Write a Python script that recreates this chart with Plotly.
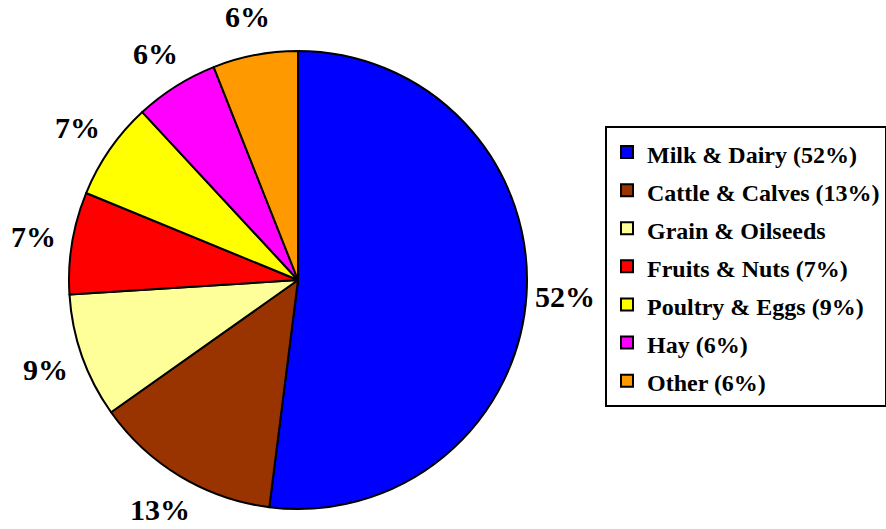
import math
import plotly.graph_objects as go

# ---- data ----
categories = ["Milk & Dairy", "Cattle & Calves", "Grain & Oilseeds", "Fruits & Nuts",
              "Poultry & Eggs", "Hay", "Other"]
legend_labels = ["Milk & Dairy (52%)", "Cattle & Calves (13%)", "Grain & Oilseeds",
                 "Fruits & Nuts (7%)", "Poultry & Eggs (9%)", "Hay (6%)", "Other (6%)"]
shares = [52.0, 13.2, 8.8, 7.2, 6.9, 5.9, 6.0]
colors = ["#0000FF", "#993300", "#FFFF99", "#FF0000", "#FFFF00", "#FF00FF", "#FF9900"]

W, H = 886, 529
FONT = "Liberation Serif, Times New Roman, serif"

# pie placement (pixels)
cx_px, cy_px, R_px = 298, 280, 229
dom_x = [(cx_px - R_px) / W, (cx_px + R_px) / W]
dom_y = [1 - (cy_px + R_px) / H, 1 - (cy_px - R_px) / H]

fig = go.Figure()
fig.add_trace(go.Pie(
    labels=[f'<b><span style="font-size:24px">{t}</span></b>' for t in legend_labels],
    values=shares,
    sort=False,
    direction="clockwise",
    rotation=0,
    marker=dict(colors=colors, line=dict(color="black", width=2)),
    textinfo="none",
    hoverinfo="label+percent",
    domain=dict(x=dom_x, y=dom_y),
    showlegend=True,
))

# percentage labels outside the slices, placed along each slice's mid-angle
total = sum(shares)
cum = 0.0
L = R_px * 1.17
for v in shares:
    mid = (cum + v / 2) / total * 2 * math.pi
    cum += v
    x_px = cx_px + L * math.sin(mid)
    y_px = cy_px - L * math.cos(mid)
    fig.add_annotation(
        x=x_px / W, y=1 - y_px / H, xref="paper", yref="paper",
        text=f"<b>{round(v / total * 100)}%</b>", showarrow=False,
        xanchor="center", yanchor="middle",
        font=dict(family=FONT, size=30, color="black"),
    )

fig.update_layout(
    width=W, height=H,
    margin=dict(l=0, r=0, t=0, b=0, autoexpand=False),
    paper_bgcolor="white", plot_bgcolor="white",
    font=dict(family=FONT, color="black"),
    legend=dict(
        x=605 / W, y=1 - 126 / H, xanchor="left", yanchor="top",
        bordercolor="black", borderwidth=2, bgcolor="white",
        font=dict(family=FONT, size=27, color="black", weight="bold"),
        traceorder="normal",
    ),
)

fig.write_html("out.html", config={"displayModeBar": False},
               post_script="document.body.style.margin='0';document.body.style.overflow='hidden';")
